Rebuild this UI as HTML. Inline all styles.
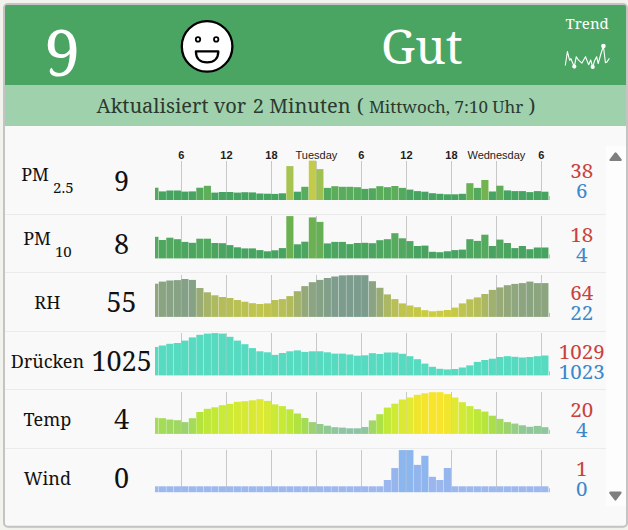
<!DOCTYPE html>
<html><head><meta charset="utf-8"><title>Luftqualität</title>
<style>
html,body{margin:0;padding:0;}
body{width:628px;height:530px;overflow:hidden;background:#f2f3ec;}
svg{display:block;}
text{font-family:"Noto Serif","Droid Serif","DejaVu Serif Condensed","Liberation Serif",serif;}
.tk{font-family:"Liberation Sans",Arial,sans-serif;font-size:11px;fill:#222;text-anchor:middle;}
.lab{font-size:18px;fill:#111;text-anchor:middle;}
.val{font-size:27px;fill:#111;text-anchor:middle;}
.mx{font-size:20.5px;fill:#c9403e;text-anchor:middle;}
.mn{font-size:20.5px;fill:#3a88cc;text-anchor:middle;}
</style></head>
<body>
<svg width="628" height="530" viewBox="0 0 628 530">
<defs><clipPath id="inner"><rect x="5" y="5" width="621" height="520.7" rx="1.5"/></clipPath></defs>
<rect x="4" y="4.6" width="623" height="522.6" rx="4.5" fill="none" stroke="#000" stroke-opacity="0.05" stroke-width="2"/>
<rect x="4" y="4" width="623" height="522.7" rx="4" fill="#f9f9f9" stroke="#c4c4c4" stroke-width="2"/>
<g clip-path="url(#inner)">
<rect x="5" y="5" width="621" height="80" fill="#4aa562"/>
<rect x="5" y="85" width="621" height="41" fill="#9fd1ad"/>
<rect x="606" y="146" width="20" height="360" fill="#fdfdfd"/>
</g>
<text x="62.3" y="75.6" font-size="64" fill="#fff" text-anchor="middle">9</text>
<g stroke="#000" stroke-width="2.3" fill="#fff">
<circle cx="207.1" cy="46.4" r="25.3"/>
<circle cx="198" cy="39.4" r="2.2" stroke-width="1.8"/>
<circle cx="216.2" cy="39.4" r="2.2" stroke-width="1.8"/>
<path d="M195.9 51.4 H218.3 C218.3 58.3 214.2 62.4 207.1 62.4 C200 62.4 195.9 58.3 195.9 51.4 Z" stroke-linejoin="round"/>
</g>
<text x="421.8" y="64" font-size="48" fill="#fff" text-anchor="middle">Gut</text>
<text x="587.2" y="28.8" font-size="15" fill="#fff" text-anchor="middle">Trend</text>
<polyline points="565.3,65.5 567.4,51.5 569.6,60.3 570.9,58.7 574.3,66.7 576.3,56.7 578.3,59.9 581.9,63.1 585.5,56.7 588.7,64.7 590.7,59.9 592.7,67.1 594.6,60.7 596.6,56.7 598.2,63.5 601,53.5 603.4,46 605.4,62.7 607,61.9 609.4,58.3" fill="none" stroke="#fff" stroke-width="1.1" stroke-linejoin="round"/>
<g fill="#fff"><circle cx="574.3" cy="66.6" r="2.1"/><circle cx="592.7" cy="66.9" r="2.1"/><circle cx="603.4" cy="46" r="2.3"/></g>
<text x="316" y="112.8" font-size="20" fill="#2b392f" text-anchor="middle">Aktualisiert vor <tspan dx="1.4">2 Minuten</tspan> <tspan dx="0.9">(</tspan> <tspan font-size="17">Mittwoch, 7:10 Uhr</tspan> )</text>
<rect x="5" y="214" width="601" height="1" fill="#ebebeb"/>
<rect x="5" y="272" width="601" height="1" fill="#ebebeb"/>
<rect x="5" y="331" width="601" height="1" fill="#ebebeb"/>
<rect x="5" y="389" width="601" height="1" fill="#ebebeb"/>
<rect x="5" y="448" width="601" height="1" fill="#ebebeb"/>
<rect x="181" y="161" width="1" height="39.0" fill="#c8c8c8"/>
<rect x="226" y="161" width="1" height="39.0" fill="#c8c8c8"/>
<rect x="271" y="161" width="1" height="39.0" fill="#c8c8c8"/>
<rect x="316" y="161" width="1" height="39.0" fill="#c8c8c8"/>
<rect x="361" y="161" width="1" height="39.0" fill="#c8c8c8"/>
<rect x="406" y="161" width="1" height="39.0" fill="#c8c8c8"/>
<rect x="451" y="161" width="1" height="39.0" fill="#c8c8c8"/>
<rect x="496" y="161" width="1" height="39.0" fill="#c8c8c8"/>
<rect x="541" y="161" width="1" height="39.0" fill="#c8c8c8"/>
<rect x="155.00" y="187.70" width="3.45" height="12.30" fill="#54a95d"/>
<rect x="158.80" y="191.40" width="7.15" height="8.60" fill="#47a360"/>
<rect x="166.30" y="190.50" width="7.15" height="9.50" fill="#47a360"/>
<rect x="173.80" y="190.50" width="7.15" height="9.50" fill="#47a360"/>
<rect x="181.30" y="191.60" width="7.15" height="8.40" fill="#47a360"/>
<rect x="188.80" y="191.40" width="7.15" height="8.60" fill="#47a360"/>
<rect x="196.30" y="187.70" width="7.15" height="12.30" fill="#54a95d"/>
<rect x="203.80" y="185.80" width="7.15" height="14.20" fill="#5eae5a"/>
<rect x="211.30" y="192.60" width="7.15" height="7.40" fill="#47a360"/>
<rect x="218.80" y="192.00" width="7.15" height="8.00" fill="#47a360"/>
<rect x="226.30" y="192.00" width="7.15" height="8.00" fill="#47a360"/>
<rect x="233.80" y="192.60" width="7.15" height="7.40" fill="#47a360"/>
<rect x="241.30" y="192.20" width="7.15" height="7.80" fill="#47a360"/>
<rect x="248.80" y="192.40" width="7.15" height="7.60" fill="#47a360"/>
<rect x="256.30" y="193.50" width="7.15" height="6.50" fill="#47a360"/>
<rect x="263.80" y="193.70" width="7.15" height="6.30" fill="#47a360"/>
<rect x="271.30" y="193.90" width="7.15" height="6.10" fill="#47a360"/>
<rect x="278.80" y="193.30" width="7.15" height="6.70" fill="#47a360"/>
<rect x="286.30" y="166.10" width="7.15" height="33.90" fill="#a7c450"/>
<rect x="293.80" y="191.70" width="7.15" height="8.30" fill="#47a360"/>
<rect x="301.30" y="186.80" width="7.15" height="13.20" fill="#59ac5b"/>
<rect x="308.80" y="160.60" width="7.15" height="39.40" fill="#c4ca4a"/>
<rect x="316.30" y="169.10" width="7.15" height="30.90" fill="#9fc152"/>
<rect x="323.80" y="187.90" width="7.15" height="12.10" fill="#53a95d"/>
<rect x="331.30" y="186.20" width="7.15" height="13.80" fill="#5cad5a"/>
<rect x="338.80" y="186.80" width="7.15" height="13.20" fill="#59ac5b"/>
<rect x="346.30" y="186.80" width="7.15" height="13.20" fill="#59ac5b"/>
<rect x="353.80" y="187.20" width="7.15" height="12.80" fill="#56ab5c"/>
<rect x="361.30" y="188.90" width="7.15" height="11.10" fill="#4da65e"/>
<rect x="368.80" y="188.30" width="7.15" height="11.70" fill="#50a85d"/>
<rect x="376.30" y="186.20" width="7.15" height="13.80" fill="#5cad5a"/>
<rect x="383.80" y="187.20" width="7.15" height="12.80" fill="#56ab5c"/>
<rect x="391.30" y="186.00" width="7.15" height="14.00" fill="#5dae5a"/>
<rect x="398.80" y="187.90" width="7.15" height="12.10" fill="#53a95d"/>
<rect x="406.30" y="189.60" width="7.15" height="10.40" fill="#49a45f"/>
<rect x="413.80" y="191.10" width="7.15" height="8.90" fill="#47a360"/>
<rect x="421.30" y="191.70" width="7.15" height="8.30" fill="#47a360"/>
<rect x="428.80" y="193.20" width="7.15" height="6.80" fill="#47a360"/>
<rect x="436.30" y="193.80" width="7.15" height="6.20" fill="#47a360"/>
<rect x="443.80" y="194.30" width="7.15" height="5.70" fill="#47a360"/>
<rect x="451.30" y="194.30" width="7.15" height="5.70" fill="#47a360"/>
<rect x="458.80" y="193.80" width="7.15" height="6.20" fill="#47a360"/>
<rect x="466.30" y="183.20" width="7.15" height="16.80" fill="#68b155"/>
<rect x="473.80" y="187.90" width="7.15" height="12.10" fill="#53a95d"/>
<rect x="481.30" y="180.00" width="7.15" height="20.00" fill="#74b44f"/>
<rect x="488.80" y="191.50" width="7.15" height="8.50" fill="#47a360"/>
<rect x="496.30" y="185.70" width="7.15" height="14.30" fill="#5eae59"/>
<rect x="503.80" y="190.40" width="7.15" height="9.60" fill="#47a360"/>
<rect x="511.30" y="191.10" width="7.15" height="8.90" fill="#47a360"/>
<rect x="518.80" y="191.10" width="7.15" height="8.90" fill="#47a360"/>
<rect x="526.30" y="192.10" width="7.15" height="7.90" fill="#47a360"/>
<rect x="533.80" y="191.10" width="7.15" height="8.90" fill="#47a360"/>
<rect x="541.30" y="191.70" width="7.15" height="8.30" fill="#47a360"/>
<rect x="549" y="196.0" width="0.8" height="4" fill="#b0b0b0"/>
<rect x="181" y="216" width="1" height="42.4" fill="#c8c8c8"/>
<rect x="226" y="216" width="1" height="42.4" fill="#c8c8c8"/>
<rect x="271" y="216" width="1" height="42.4" fill="#c8c8c8"/>
<rect x="316" y="216" width="1" height="42.4" fill="#c8c8c8"/>
<rect x="361" y="216" width="1" height="42.4" fill="#c8c8c8"/>
<rect x="406" y="216" width="1" height="42.4" fill="#c8c8c8"/>
<rect x="451" y="216" width="1" height="42.4" fill="#c8c8c8"/>
<rect x="496" y="216" width="1" height="42.4" fill="#c8c8c8"/>
<rect x="541" y="216" width="1" height="42.4" fill="#c8c8c8"/>
<rect x="155.00" y="236.80" width="3.45" height="21.60" fill="#54a95f"/>
<rect x="158.80" y="240.00" width="7.15" height="18.40" fill="#4fa75f"/>
<rect x="166.30" y="237.70" width="7.15" height="20.70" fill="#52a85f"/>
<rect x="173.80" y="239.20" width="7.15" height="19.20" fill="#50a75f"/>
<rect x="181.30" y="241.90" width="7.15" height="16.50" fill="#4da65f"/>
<rect x="188.80" y="242.80" width="7.15" height="15.60" fill="#4ca55f"/>
<rect x="196.30" y="238.70" width="7.15" height="19.70" fill="#51a85f"/>
<rect x="203.80" y="238.70" width="7.15" height="19.70" fill="#51a85f"/>
<rect x="211.30" y="243.00" width="7.15" height="15.40" fill="#4ba55f"/>
<rect x="218.80" y="243.20" width="7.15" height="15.20" fill="#4ba560"/>
<rect x="226.30" y="245.10" width="7.15" height="13.30" fill="#49a460"/>
<rect x="233.80" y="247.30" width="7.15" height="11.10" fill="#47a360"/>
<rect x="241.30" y="248.40" width="7.15" height="10.00" fill="#47a360"/>
<rect x="248.80" y="248.40" width="7.15" height="10.00" fill="#47a360"/>
<rect x="256.30" y="250.10" width="7.15" height="8.30" fill="#47a360"/>
<rect x="263.80" y="251.30" width="7.15" height="7.10" fill="#47a360"/>
<rect x="271.30" y="250.30" width="7.15" height="8.10" fill="#47a360"/>
<rect x="278.80" y="248.10" width="7.15" height="10.30" fill="#47a360"/>
<rect x="286.30" y="216.10" width="7.15" height="42.30" fill="#6cb150"/>
<rect x="293.80" y="244.30" width="7.15" height="14.10" fill="#4aa460"/>
<rect x="301.30" y="241.70" width="7.15" height="16.70" fill="#4da65f"/>
<rect x="308.80" y="217.40" width="7.15" height="41.00" fill="#6bb151"/>
<rect x="316.30" y="221.90" width="7.15" height="36.50" fill="#66af55"/>
<rect x="323.80" y="243.40" width="7.15" height="15.00" fill="#4ba560"/>
<rect x="331.30" y="241.90" width="7.15" height="16.50" fill="#4da65f"/>
<rect x="338.80" y="241.90" width="7.15" height="16.50" fill="#4da65f"/>
<rect x="346.30" y="244.10" width="7.15" height="14.30" fill="#4aa460"/>
<rect x="353.80" y="243.00" width="7.15" height="15.40" fill="#4ba55f"/>
<rect x="361.30" y="242.80" width="7.15" height="15.60" fill="#4ca55f"/>
<rect x="368.80" y="243.20" width="7.15" height="15.20" fill="#4ba560"/>
<rect x="376.30" y="240.20" width="7.15" height="18.20" fill="#4fa75f"/>
<rect x="383.80" y="239.20" width="7.15" height="19.20" fill="#50a75f"/>
<rect x="391.30" y="233.20" width="7.15" height="25.20" fill="#58ab5e"/>
<rect x="398.80" y="238.30" width="7.15" height="20.10" fill="#52a85f"/>
<rect x="406.30" y="241.10" width="7.15" height="17.30" fill="#4ea65f"/>
<rect x="413.80" y="246.00" width="7.15" height="12.40" fill="#48a360"/>
<rect x="421.30" y="245.60" width="7.15" height="12.80" fill="#48a360"/>
<rect x="428.80" y="251.80" width="7.15" height="6.60" fill="#47a360"/>
<rect x="436.30" y="252.20" width="7.15" height="6.20" fill="#47a360"/>
<rect x="443.80" y="251.30" width="7.15" height="7.10" fill="#47a360"/>
<rect x="451.30" y="250.10" width="7.15" height="8.30" fill="#47a360"/>
<rect x="458.80" y="249.60" width="7.15" height="8.80" fill="#47a360"/>
<rect x="466.30" y="239.20" width="7.15" height="19.20" fill="#50a75f"/>
<rect x="473.80" y="240.90" width="7.15" height="17.50" fill="#4ea65f"/>
<rect x="481.30" y="234.70" width="7.15" height="23.70" fill="#56aa5e"/>
<rect x="488.80" y="246.00" width="7.15" height="12.40" fill="#48a360"/>
<rect x="496.30" y="239.60" width="7.15" height="18.80" fill="#50a75f"/>
<rect x="503.80" y="243.00" width="7.15" height="15.40" fill="#4ba55f"/>
<rect x="511.30" y="248.10" width="7.15" height="10.30" fill="#47a360"/>
<rect x="518.80" y="246.00" width="7.15" height="12.40" fill="#48a360"/>
<rect x="526.30" y="249.20" width="7.15" height="9.20" fill="#47a360"/>
<rect x="533.80" y="247.50" width="7.15" height="10.90" fill="#47a360"/>
<rect x="541.30" y="247.50" width="7.15" height="10.90" fill="#47a360"/>
<rect x="549" y="254.4" width="0.8" height="4" fill="#b0b0b0"/>
<rect x="181" y="275" width="1" height="41.9" fill="#c8c8c8"/>
<rect x="226" y="275" width="1" height="41.9" fill="#c8c8c8"/>
<rect x="271" y="275" width="1" height="41.9" fill="#c8c8c8"/>
<rect x="316" y="275" width="1" height="41.9" fill="#c8c8c8"/>
<rect x="361" y="275" width="1" height="41.9" fill="#c8c8c8"/>
<rect x="406" y="275" width="1" height="41.9" fill="#c8c8c8"/>
<rect x="451" y="275" width="1" height="41.9" fill="#c8c8c8"/>
<rect x="496" y="275" width="1" height="41.9" fill="#c8c8c8"/>
<rect x="541" y="275" width="1" height="41.9" fill="#c8c8c8"/>
<rect x="155.00" y="283.70" width="3.45" height="33.20" fill="#8fa67e"/>
<rect x="158.80" y="281.60" width="7.15" height="35.30" fill="#8aa482"/>
<rect x="166.30" y="280.50" width="7.15" height="36.40" fill="#88a284"/>
<rect x="173.80" y="280.10" width="7.15" height="36.80" fill="#87a285"/>
<rect x="181.30" y="279.00" width="7.15" height="37.90" fill="#84a087"/>
<rect x="188.80" y="279.90" width="7.15" height="37.00" fill="#86a285"/>
<rect x="196.30" y="288.00" width="7.15" height="28.90" fill="#99ac75"/>
<rect x="203.80" y="292.30" width="7.15" height="24.60" fill="#a6b468"/>
<rect x="211.30" y="295.30" width="7.15" height="21.60" fill="#afba5f"/>
<rect x="218.80" y="297.00" width="7.15" height="19.90" fill="#b4bd5a"/>
<rect x="226.30" y="298.00" width="7.15" height="18.90" fill="#b6be58"/>
<rect x="233.80" y="300.00" width="7.15" height="16.90" fill="#b9c054"/>
<rect x="241.30" y="301.70" width="7.15" height="15.20" fill="#bcc251"/>
<rect x="248.80" y="303.20" width="7.15" height="13.70" fill="#bec44e"/>
<rect x="256.30" y="304.00" width="7.15" height="12.90" fill="#bfc54d"/>
<rect x="263.80" y="303.40" width="7.15" height="13.50" fill="#bec44e"/>
<rect x="271.30" y="300.00" width="7.15" height="16.90" fill="#b9c054"/>
<rect x="278.80" y="299.10" width="7.15" height="17.80" fill="#b7bf56"/>
<rect x="286.30" y="296.10" width="7.15" height="20.80" fill="#b2bb5c"/>
<rect x="293.80" y="291.20" width="7.15" height="25.70" fill="#a3b26b"/>
<rect x="301.30" y="286.10" width="7.15" height="30.80" fill="#94a97a"/>
<rect x="308.80" y="282.20" width="7.15" height="34.70" fill="#8ba481"/>
<rect x="316.30" y="279.90" width="7.15" height="37.00" fill="#86a285"/>
<rect x="323.80" y="278.00" width="7.15" height="38.90" fill="#829f89"/>
<rect x="331.30" y="276.50" width="7.15" height="40.40" fill="#7f9d8c"/>
<rect x="338.80" y="275.40" width="7.15" height="41.50" fill="#7c9c8e"/>
<rect x="346.30" y="275.20" width="7.15" height="41.70" fill="#7c9c8e"/>
<rect x="353.80" y="275.20" width="7.15" height="41.70" fill="#7c9c8e"/>
<rect x="361.30" y="275.20" width="7.15" height="41.70" fill="#7c9c8e"/>
<rect x="368.80" y="281.20" width="7.15" height="35.70" fill="#89a383"/>
<rect x="376.30" y="287.80" width="7.15" height="29.10" fill="#99ac75"/>
<rect x="383.80" y="294.40" width="7.15" height="22.50" fill="#acb862"/>
<rect x="391.30" y="299.10" width="7.15" height="17.80" fill="#b7bf56"/>
<rect x="398.80" y="303.40" width="7.15" height="13.50" fill="#bec44e"/>
<rect x="406.30" y="305.50" width="7.15" height="11.40" fill="#c2c64a"/>
<rect x="413.80" y="307.20" width="7.15" height="9.70" fill="#c4c847"/>
<rect x="421.30" y="310.20" width="7.15" height="6.70" fill="#c9cc41"/>
<rect x="428.80" y="311.30" width="7.15" height="5.60" fill="#cbcd3f"/>
<rect x="436.30" y="310.80" width="7.15" height="6.10" fill="#cacc40"/>
<rect x="443.80" y="310.00" width="7.15" height="6.90" fill="#c9cb42"/>
<rect x="451.30" y="307.60" width="7.15" height="9.30" fill="#c5c946"/>
<rect x="458.80" y="303.40" width="7.15" height="13.50" fill="#bec44e"/>
<rect x="466.30" y="299.30" width="7.15" height="17.60" fill="#b8c056"/>
<rect x="473.80" y="297.40" width="7.15" height="19.50" fill="#b5be59"/>
<rect x="481.30" y="294.00" width="7.15" height="22.90" fill="#abb763"/>
<rect x="488.80" y="289.90" width="7.15" height="27.00" fill="#9fb06f"/>
<rect x="496.30" y="287.40" width="7.15" height="29.50" fill="#98ab76"/>
<rect x="503.80" y="285.20" width="7.15" height="31.70" fill="#92a87b"/>
<rect x="511.30" y="283.90" width="7.15" height="33.00" fill="#8fa67e"/>
<rect x="518.80" y="283.10" width="7.15" height="33.80" fill="#8da57f"/>
<rect x="526.30" y="281.60" width="7.15" height="35.30" fill="#8aa482"/>
<rect x="533.80" y="283.10" width="7.15" height="33.80" fill="#8da57f"/>
<rect x="541.30" y="283.10" width="7.15" height="33.80" fill="#8da57f"/>
<rect x="549" y="312.9" width="0.8" height="4" fill="#b0b0b0"/>
<rect x="181" y="333" width="1" height="42.4" fill="#c8c8c8"/>
<rect x="226" y="333" width="1" height="42.4" fill="#c8c8c8"/>
<rect x="271" y="333" width="1" height="42.4" fill="#c8c8c8"/>
<rect x="316" y="333" width="1" height="42.4" fill="#c8c8c8"/>
<rect x="361" y="333" width="1" height="42.4" fill="#c8c8c8"/>
<rect x="406" y="333" width="1" height="42.4" fill="#c8c8c8"/>
<rect x="451" y="333" width="1" height="42.4" fill="#c8c8c8"/>
<rect x="496" y="333" width="1" height="42.4" fill="#c8c8c8"/>
<rect x="541" y="333" width="1" height="42.4" fill="#c8c8c8"/>
<rect x="155.00" y="347.00" width="3.45" height="28.40" fill="#56dbc0"/>
<rect x="158.80" y="345.50" width="7.15" height="29.90" fill="#56dbc0"/>
<rect x="166.30" y="343.80" width="7.15" height="31.60" fill="#56dbc0"/>
<rect x="173.80" y="343.00" width="7.15" height="32.40" fill="#56dbc0"/>
<rect x="181.30" y="340.60" width="7.15" height="34.80" fill="#56dbc0"/>
<rect x="188.80" y="337.40" width="7.15" height="38.00" fill="#56dbc0"/>
<rect x="196.30" y="334.80" width="7.15" height="40.60" fill="#56dbc0"/>
<rect x="203.80" y="333.60" width="7.15" height="41.80" fill="#56dbc0"/>
<rect x="211.30" y="333.10" width="7.15" height="42.30" fill="#56dbc0"/>
<rect x="218.80" y="333.60" width="7.15" height="41.80" fill="#56dbc0"/>
<rect x="226.30" y="336.80" width="7.15" height="38.60" fill="#56dbc0"/>
<rect x="233.80" y="340.60" width="7.15" height="34.80" fill="#56dbc0"/>
<rect x="241.30" y="344.20" width="7.15" height="31.20" fill="#56dbc0"/>
<rect x="248.80" y="348.10" width="7.15" height="27.30" fill="#56dbc0"/>
<rect x="256.30" y="351.30" width="7.15" height="24.10" fill="#56dbc0"/>
<rect x="263.80" y="352.30" width="7.15" height="23.10" fill="#56dbc0"/>
<rect x="271.30" y="354.90" width="7.15" height="20.50" fill="#56dbc0"/>
<rect x="278.80" y="353.00" width="7.15" height="22.40" fill="#56dbc0"/>
<rect x="286.30" y="351.30" width="7.15" height="24.10" fill="#56dbc0"/>
<rect x="293.80" y="350.40" width="7.15" height="25.00" fill="#56dbc0"/>
<rect x="301.30" y="351.90" width="7.15" height="23.50" fill="#56dbc0"/>
<rect x="308.80" y="351.30" width="7.15" height="24.10" fill="#56dbc0"/>
<rect x="316.30" y="351.30" width="7.15" height="24.10" fill="#56dbc0"/>
<rect x="323.80" y="352.30" width="7.15" height="23.10" fill="#56dbc0"/>
<rect x="331.30" y="353.60" width="7.15" height="21.80" fill="#56dbc0"/>
<rect x="338.80" y="353.60" width="7.15" height="21.80" fill="#56dbc0"/>
<rect x="346.30" y="354.50" width="7.15" height="20.90" fill="#56dbc0"/>
<rect x="353.80" y="355.70" width="7.15" height="19.70" fill="#56dbc0"/>
<rect x="361.30" y="355.30" width="7.15" height="20.10" fill="#56dbc0"/>
<rect x="368.80" y="353.20" width="7.15" height="22.20" fill="#56dbc0"/>
<rect x="376.30" y="354.00" width="7.15" height="21.40" fill="#56dbc0"/>
<rect x="383.80" y="352.50" width="7.15" height="22.90" fill="#56dbc0"/>
<rect x="391.30" y="352.50" width="7.15" height="22.90" fill="#56dbc0"/>
<rect x="398.80" y="353.80" width="7.15" height="21.60" fill="#56dbc0"/>
<rect x="406.30" y="356.20" width="7.15" height="19.20" fill="#56dbc0"/>
<rect x="413.80" y="359.20" width="7.15" height="16.20" fill="#56dbc0"/>
<rect x="421.30" y="363.60" width="7.15" height="11.80" fill="#56dbc0"/>
<rect x="428.80" y="366.80" width="7.15" height="8.60" fill="#56dbc0"/>
<rect x="436.30" y="368.80" width="7.15" height="6.60" fill="#56dbc0"/>
<rect x="443.80" y="369.40" width="7.15" height="6.00" fill="#56dbc0"/>
<rect x="451.30" y="369.00" width="7.15" height="6.40" fill="#56dbc0"/>
<rect x="458.80" y="367.50" width="7.15" height="7.90" fill="#56dbc0"/>
<rect x="466.30" y="365.40" width="7.15" height="10.00" fill="#56dbc0"/>
<rect x="473.80" y="361.90" width="7.15" height="13.50" fill="#56dbc0"/>
<rect x="481.30" y="360.00" width="7.15" height="15.40" fill="#56dbc0"/>
<rect x="488.80" y="358.70" width="7.15" height="16.70" fill="#56dbc0"/>
<rect x="496.30" y="357.00" width="7.15" height="18.40" fill="#56dbc0"/>
<rect x="503.80" y="356.20" width="7.15" height="19.20" fill="#56dbc0"/>
<rect x="511.30" y="356.80" width="7.15" height="18.60" fill="#56dbc0"/>
<rect x="518.80" y="357.50" width="7.15" height="17.90" fill="#56dbc0"/>
<rect x="526.30" y="357.00" width="7.15" height="18.40" fill="#56dbc0"/>
<rect x="533.80" y="356.20" width="7.15" height="19.20" fill="#56dbc0"/>
<rect x="541.30" y="355.50" width="7.15" height="19.90" fill="#56dbc0"/>
<rect x="549" y="371.4" width="0.8" height="4" fill="#b0b0b0"/>
<rect x="181" y="392" width="1" height="41.9" fill="#c8c8c8"/>
<rect x="226" y="392" width="1" height="41.9" fill="#c8c8c8"/>
<rect x="271" y="392" width="1" height="41.9" fill="#c8c8c8"/>
<rect x="316" y="392" width="1" height="41.9" fill="#c8c8c8"/>
<rect x="361" y="392" width="1" height="41.9" fill="#c8c8c8"/>
<rect x="406" y="392" width="1" height="41.9" fill="#c8c8c8"/>
<rect x="451" y="392" width="1" height="41.9" fill="#c8c8c8"/>
<rect x="496" y="392" width="1" height="41.9" fill="#c8c8c8"/>
<rect x="541" y="392" width="1" height="41.9" fill="#c8c8c8"/>
<rect x="155.00" y="417.80" width="3.45" height="16.10" fill="#a4dd54"/>
<rect x="158.80" y="418.20" width="7.15" height="15.70" fill="#a3dc56"/>
<rect x="166.30" y="419.50" width="7.15" height="14.40" fill="#a1d95f"/>
<rect x="173.80" y="420.20" width="7.15" height="13.70" fill="#a0d764"/>
<rect x="181.30" y="422.10" width="7.15" height="11.80" fill="#9dd271"/>
<rect x="188.80" y="418.20" width="7.15" height="15.70" fill="#a3dc56"/>
<rect x="196.30" y="412.00" width="7.15" height="21.90" fill="#b4e43c"/>
<rect x="203.80" y="408.80" width="7.15" height="25.10" fill="#bee739"/>
<rect x="211.30" y="407.30" width="7.15" height="26.60" fill="#c3e937"/>
<rect x="218.80" y="405.20" width="7.15" height="28.70" fill="#c9ea36"/>
<rect x="226.30" y="403.90" width="7.15" height="30.00" fill="#cdea35"/>
<rect x="233.80" y="401.80" width="7.15" height="32.10" fill="#d4e934"/>
<rect x="241.30" y="401.20" width="7.15" height="32.70" fill="#d6e934"/>
<rect x="248.80" y="400.30" width="7.15" height="33.60" fill="#d9e933"/>
<rect x="256.30" y="399.20" width="7.15" height="34.70" fill="#dde933"/>
<rect x="263.80" y="400.90" width="7.15" height="33.00" fill="#d7e934"/>
<rect x="271.30" y="404.40" width="7.15" height="29.50" fill="#ccea35"/>
<rect x="278.80" y="406.10" width="7.15" height="27.80" fill="#c6ea36"/>
<rect x="286.30" y="409.30" width="7.15" height="24.60" fill="#bde739"/>
<rect x="293.80" y="413.50" width="7.15" height="20.40" fill="#b0e242"/>
<rect x="301.30" y="418.00" width="7.15" height="15.90" fill="#a4dc55"/>
<rect x="308.80" y="422.10" width="7.15" height="11.80" fill="#9dd271"/>
<rect x="316.30" y="424.00" width="7.15" height="9.90" fill="#93cc89"/>
<rect x="323.80" y="425.70" width="7.15" height="8.20" fill="#91c995"/>
<rect x="331.30" y="427.20" width="7.15" height="6.70" fill="#8fc6a0"/>
<rect x="338.80" y="427.60" width="7.15" height="6.30" fill="#8fc5a2"/>
<rect x="346.30" y="428.30" width="7.15" height="5.60" fill="#8ec3a7"/>
<rect x="353.80" y="428.30" width="7.15" height="5.60" fill="#8ec3a7"/>
<rect x="361.30" y="427.00" width="7.15" height="6.90" fill="#8fc69e"/>
<rect x="368.80" y="420.40" width="7.15" height="13.50" fill="#a0d765"/>
<rect x="376.30" y="414.20" width="7.15" height="19.70" fill="#aee145"/>
<rect x="383.80" y="407.60" width="7.15" height="26.30" fill="#c2e937"/>
<rect x="391.30" y="403.70" width="7.15" height="30.20" fill="#ceea35"/>
<rect x="398.80" y="399.50" width="7.15" height="34.40" fill="#dce933"/>
<rect x="406.30" y="397.50" width="7.15" height="36.40" fill="#e2e932"/>
<rect x="413.80" y="394.80" width="7.15" height="39.10" fill="#eee62e"/>
<rect x="421.30" y="393.30" width="7.15" height="40.60" fill="#f4e52c"/>
<rect x="428.80" y="392.20" width="7.15" height="41.70" fill="#f8e42a"/>
<rect x="436.30" y="392.20" width="7.15" height="41.70" fill="#f8e42a"/>
<rect x="443.80" y="394.10" width="7.15" height="39.80" fill="#f1e62d"/>
<rect x="451.30" y="397.50" width="7.15" height="36.40" fill="#e2e932"/>
<rect x="458.80" y="402.20" width="7.15" height="31.70" fill="#d3ea34"/>
<rect x="466.30" y="406.10" width="7.15" height="27.80" fill="#c6ea36"/>
<rect x="473.80" y="409.10" width="7.15" height="24.80" fill="#bde739"/>
<rect x="481.30" y="411.60" width="7.15" height="22.30" fill="#b6e53b"/>
<rect x="488.80" y="415.70" width="7.15" height="18.20" fill="#aadf4b"/>
<rect x="496.30" y="418.90" width="7.15" height="15.00" fill="#a2da5a"/>
<rect x="503.80" y="422.10" width="7.15" height="11.80" fill="#9dd271"/>
<rect x="511.30" y="423.60" width="7.15" height="10.30" fill="#95ce84"/>
<rect x="518.80" y="425.30" width="7.15" height="8.60" fill="#91c992"/>
<rect x="526.30" y="426.80" width="7.15" height="7.10" fill="#8fc69d"/>
<rect x="533.80" y="425.90" width="7.15" height="8.00" fill="#90c897"/>
<rect x="541.30" y="427.20" width="7.15" height="6.70" fill="#8fc6a0"/>
<rect x="549" y="429.9" width="0.8" height="4" fill="#b0b0b0"/>
<rect x="181" y="450" width="1" height="42.2" fill="#c8c8c8"/>
<rect x="226" y="450" width="1" height="42.2" fill="#c8c8c8"/>
<rect x="271" y="450" width="1" height="42.2" fill="#c8c8c8"/>
<rect x="316" y="450" width="1" height="42.2" fill="#c8c8c8"/>
<rect x="361" y="450" width="1" height="42.2" fill="#c8c8c8"/>
<rect x="406" y="450" width="1" height="42.2" fill="#c8c8c8"/>
<rect x="451" y="450" width="1" height="42.2" fill="#c8c8c8"/>
<rect x="496" y="450" width="1" height="42.2" fill="#c8c8c8"/>
<rect x="541" y="450" width="1" height="42.2" fill="#c8c8c8"/>
<rect x="155.00" y="486.30" width="3.45" height="5.90" fill="#9db8ee"/>
<rect x="158.80" y="486.30" width="7.15" height="5.90" fill="#9db8ee"/>
<rect x="166.30" y="486.30" width="7.15" height="5.90" fill="#9db8ee"/>
<rect x="173.80" y="486.30" width="7.15" height="5.90" fill="#9db8ee"/>
<rect x="181.30" y="486.30" width="7.15" height="5.90" fill="#9db8ee"/>
<rect x="188.80" y="486.30" width="7.15" height="5.90" fill="#9db8ee"/>
<rect x="196.30" y="486.30" width="7.15" height="5.90" fill="#9db8ee"/>
<rect x="203.80" y="486.30" width="7.15" height="5.90" fill="#9db8ee"/>
<rect x="211.30" y="486.30" width="7.15" height="5.90" fill="#9db8ee"/>
<rect x="218.80" y="486.30" width="7.15" height="5.90" fill="#9db8ee"/>
<rect x="226.30" y="486.30" width="7.15" height="5.90" fill="#9db8ee"/>
<rect x="233.80" y="486.30" width="7.15" height="5.90" fill="#9db8ee"/>
<rect x="241.30" y="486.30" width="7.15" height="5.90" fill="#9db8ee"/>
<rect x="248.80" y="486.30" width="7.15" height="5.90" fill="#9db8ee"/>
<rect x="256.30" y="486.30" width="7.15" height="5.90" fill="#9db8ee"/>
<rect x="263.80" y="486.30" width="7.15" height="5.90" fill="#9db8ee"/>
<rect x="271.30" y="486.30" width="7.15" height="5.90" fill="#9db8ee"/>
<rect x="278.80" y="486.30" width="7.15" height="5.90" fill="#9db8ee"/>
<rect x="286.30" y="486.30" width="7.15" height="5.90" fill="#9db8ee"/>
<rect x="293.80" y="486.30" width="7.15" height="5.90" fill="#9db8ee"/>
<rect x="301.30" y="486.30" width="7.15" height="5.90" fill="#9db8ee"/>
<rect x="308.80" y="486.30" width="7.15" height="5.90" fill="#9db8ee"/>
<rect x="316.30" y="486.30" width="7.15" height="5.90" fill="#9db8ee"/>
<rect x="323.80" y="486.30" width="7.15" height="5.90" fill="#9db8ee"/>
<rect x="331.30" y="486.30" width="7.15" height="5.90" fill="#9db8ee"/>
<rect x="338.80" y="486.30" width="7.15" height="5.90" fill="#9db8ee"/>
<rect x="346.30" y="486.30" width="7.15" height="5.90" fill="#9db8ee"/>
<rect x="353.80" y="486.30" width="7.15" height="5.90" fill="#9db8ee"/>
<rect x="361.30" y="486.30" width="7.15" height="5.90" fill="#9db8ee"/>
<rect x="368.80" y="486.30" width="7.15" height="5.90" fill="#9db8ee"/>
<rect x="376.30" y="486.30" width="7.15" height="5.90" fill="#9db8ee"/>
<rect x="383.80" y="480.00" width="7.15" height="12.20" fill="#9ab7ee"/>
<rect x="391.30" y="468.10" width="7.15" height="24.10" fill="#95b5ee"/>
<rect x="398.80" y="450.10" width="7.15" height="42.10" fill="#8bb6ee"/>
<rect x="406.30" y="450.10" width="7.15" height="42.10" fill="#8bb6ee"/>
<rect x="413.80" y="464.90" width="7.15" height="27.30" fill="#93b5ee"/>
<rect x="421.30" y="455.80" width="7.15" height="36.40" fill="#8eb6ee"/>
<rect x="428.80" y="476.80" width="7.15" height="15.40" fill="#99b6ee"/>
<rect x="436.30" y="480.00" width="7.15" height="12.20" fill="#9ab7ee"/>
<rect x="443.80" y="468.00" width="7.15" height="24.20" fill="#95b5ee"/>
<rect x="451.30" y="486.30" width="7.15" height="5.90" fill="#9db8ee"/>
<rect x="458.80" y="486.30" width="7.15" height="5.90" fill="#9db8ee"/>
<rect x="466.30" y="486.30" width="7.15" height="5.90" fill="#9db8ee"/>
<rect x="473.80" y="486.30" width="7.15" height="5.90" fill="#9db8ee"/>
<rect x="481.30" y="486.30" width="7.15" height="5.90" fill="#9db8ee"/>
<rect x="488.80" y="486.30" width="7.15" height="5.90" fill="#9db8ee"/>
<rect x="496.30" y="486.30" width="7.15" height="5.90" fill="#9db8ee"/>
<rect x="503.80" y="486.30" width="7.15" height="5.90" fill="#9db8ee"/>
<rect x="511.30" y="486.30" width="7.15" height="5.90" fill="#9db8ee"/>
<rect x="518.80" y="486.30" width="7.15" height="5.90" fill="#9db8ee"/>
<rect x="526.30" y="486.30" width="7.15" height="5.90" fill="#9db8ee"/>
<rect x="533.80" y="486.30" width="7.15" height="5.90" fill="#9db8ee"/>
<rect x="541.30" y="486.30" width="7.15" height="5.90" fill="#9db8ee"/>
<rect x="549" y="488.2" width="0.8" height="4" fill="#b0b0b0"/>
<text x="181.4" y="159" class="tk" font-weight="bold">6</text>
<text x="226.4" y="159" class="tk" font-weight="bold">12</text>
<text x="271.4" y="159" class="tk" font-weight="bold">18</text>
<text x="316.4" y="159" class="tk" font-weight="normal">Tuesday</text>
<text x="361.4" y="159" class="tk" font-weight="bold">6</text>
<text x="406.4" y="159" class="tk" font-weight="bold">12</text>
<text x="451.4" y="159" class="tk" font-weight="bold">18</text>
<text x="496.4" y="159" class="tk" font-weight="normal">Wednesday</text>
<text x="541.4" y="159" class="tk" font-weight="bold">6</text>
<text x="47.4" y="181.2" class="lab">PM<tspan font-size="15" dy="12" dx="4">2.5</tspan></text>
<text x="121.6" y="190.6" class="val">9</text>
<text x="581.7" y="177.8" class="mx">38</text>
<text x="581.7" y="198.2" class="mn">6</text>
<text x="47.4" y="245.0" class="lab">PM<tspan font-size="15" dy="12" dx="4">10</tspan></text>
<text x="121.6" y="254.3" class="val">8</text>
<text x="581.7" y="241.6" class="mx">18</text>
<text x="581.7" y="261.9" class="mn">4</text>
<text x="47.4" y="309.4" class="lab">RH</text>
<text x="121.6" y="312.3" class="val">55</text>
<text x="581.7" y="299.6" class="mx">64</text>
<text x="581.7" y="319.9" class="mn">22</text>
<text x="47.4" y="368.4" class="lab">Drücken</text>
<text x="121.6" y="371.3" class="val">1025</text>
<text x="581.7" y="358.6" class="mx">1029</text>
<text x="581.7" y="378.9" class="mn">1023</text>
<text x="47.4" y="426.4" class="lab">Temp</text>
<text x="121.6" y="429.3" class="val">4</text>
<text x="581.7" y="416.6" class="mx">20</text>
<text x="581.7" y="436.9" class="mn">4</text>
<text x="47.4" y="485.4" class="lab">Wind</text>
<text x="121.6" y="488.3" class="val">0</text>
<text x="581.7" y="475.6" class="mx">1</text>
<text x="581.7" y="495.9" class="mn">0</text>
<path d="M615.6 153.6 L620.6 159.9 L610.6 159.9 Z" fill="#7f7f7f" stroke="#7f7f7f" stroke-width="2.4" stroke-linejoin="round"/>
<path d="M615.4 499.4 L620.4 492.7 L610.4 492.7 Z" fill="#7f7f7f" stroke="#7f7f7f" stroke-width="2.4" stroke-linejoin="round"/>
</svg>
</body></html>
